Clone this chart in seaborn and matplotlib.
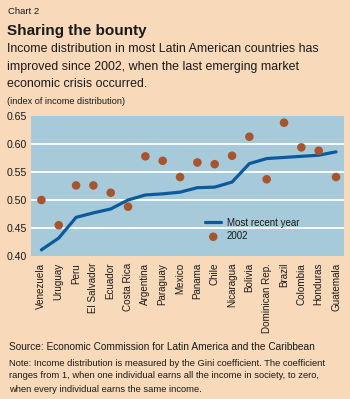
import numpy as np
import pandas as pd
import matplotlib
matplotlib.use("Agg")
import matplotlib.pyplot as plt
import seaborn as sns

# === Data ===
countries = ["Venezuela", "Uruguay", "Peru", "El Salvador", "Ecuador", "Costa Rica",
             "Argentina", "Paraguay", "Mexico", "Panama", "Chile", "Nicaragua",
             "Bolivia", "Dominican Rep.", "Brazil", "Colombia", "Honduras", "Guatemala"]
recent = [0.411, 0.432, 0.469, 0.477, 0.484, 0.500, 0.509, 0.511, 0.514, 0.522,
          0.523, 0.532, 0.565, 0.574, 0.576, 0.578, 0.580, 0.586]
y2002 = [0.500, 0.455, 0.526, 0.526, 0.513, 0.488, 0.578, 0.570, 0.541, 0.567,
         0.564, 0.579, 0.613, 0.537, 0.638, 0.594, 0.588, 0.541]
yticks = [0.40, 0.45, 0.50, 0.55, 0.60, 0.65]

df = pd.DataFrame({"pos": np.arange(len(countries)), "country": countries,
                   "recent": recent, "y2002": y2002})

BG = "#F8D9B9"
PLOT_BG = "#A6CADA"
LINE = "#0B5A9E"
DOT = "#A8552F"

sns.set_style("white")
plt.rcParams["font.family"] = ["Liberation Sans", "DejaVu Sans"]
plt.rcParams["text.color"] = "#1a1a1a"

fig = plt.figure(figsize=(3.5, 3.99), dpi=100, facecolor=BG)
ax = fig.add_axes([31 / 350, 1 - 256 / 399, 313 / 350, 140 / 399])
ax.set_facecolor(PLOT_BG)

# white gridlines
for yv in yticks[1:-1]:
    ax.axhline(yv, color="white", lw=1.3, zorder=1)

sns.lineplot(data=df, x="pos", y="recent", ax=ax, color=LINE, lw=2.3,
             label="Most recent year", zorder=3)
sns.scatterplot(data=df, x="pos", y="y2002", ax=ax, color=DOT, s=38,
                edgecolor="none", label="2002", zorder=4)

ax.set_xlim(-0.6, 17.46)
ax.set_ylim(0.40, 0.65)
ax.set_yticks(yticks)
ax.set_yticklabels([f"{v:.2f}" for v in yticks], fontsize=7.6, color="#1a1a1a")
ax.set_xticks(df["pos"])
ax.set_xticklabels(countries, rotation=90, fontsize=7.1, color="#1a1a1a")
ax.set_xticks(np.arange(len(countries)) - 0.5, minor=True)
ax.tick_params(axis="x", which="major", length=0, pad=5)
ax.tick_params(axis="x", which="minor", direction="in", length=3, width=0.8,
               color="#333333")
ax.tick_params(axis="y", length=0, pad=3)
ax.set_xlabel("")
ax.set_ylabel("")
for sp in ax.spines.values():
    sp.set_visible(False)

leg = ax.legend(loc="upper left", bbox_to_anchor=(0.545, 0.30), frameon=False,
                fontsize=7, handlelength=1.6, handletextpad=0.6,
                labelspacing=0.35, borderaxespad=0)

# === Titles and notes ===
def fy(py):
    return 1 - py / 399

fig.text(8 / 350, fy(12), "Chart 2", fontsize=6.8, va="center")
fig.text(7 / 350, fy(31), "Sharing the bounty", fontsize=11, weight="bold",
         va="center")
fig.text(7 / 350, fy(49), "Income distribution in most Latin American countries has",
         fontsize=8.9, va="center")
fig.text(7 / 350, fy(67), "improved since 2002, when the last emerging market",
         fontsize=8.9, va="center")
fig.text(7 / 350, fy(84), "economic crisis occurred.", fontsize=8.9, va="center")
fig.text(7 / 350, fy(101), "(index of income distribution)", fontsize=6.6, va="center")

fig.text(9 / 350, fy(347), "Source: Economic Commission for Latin America and the Caribbean",
         fontsize=7.3, va="center")
fig.text(9 / 350, fy(363), "Note: Income distribution is measured by the Gini coefficient. The coefficient",
         fontsize=6.75, va="center")
fig.text(9 / 350, fy(376), "ranges from 1, when one individual earns all the income in society, to zero,",
         fontsize=6.75, va="center")
fig.text(9 / 350, fy(389), "when every individual earns the same income.",
         fontsize=6.75, va="center")

fig.savefig("out.png", dpi=100, facecolor=BG)
plt.close(fig)
